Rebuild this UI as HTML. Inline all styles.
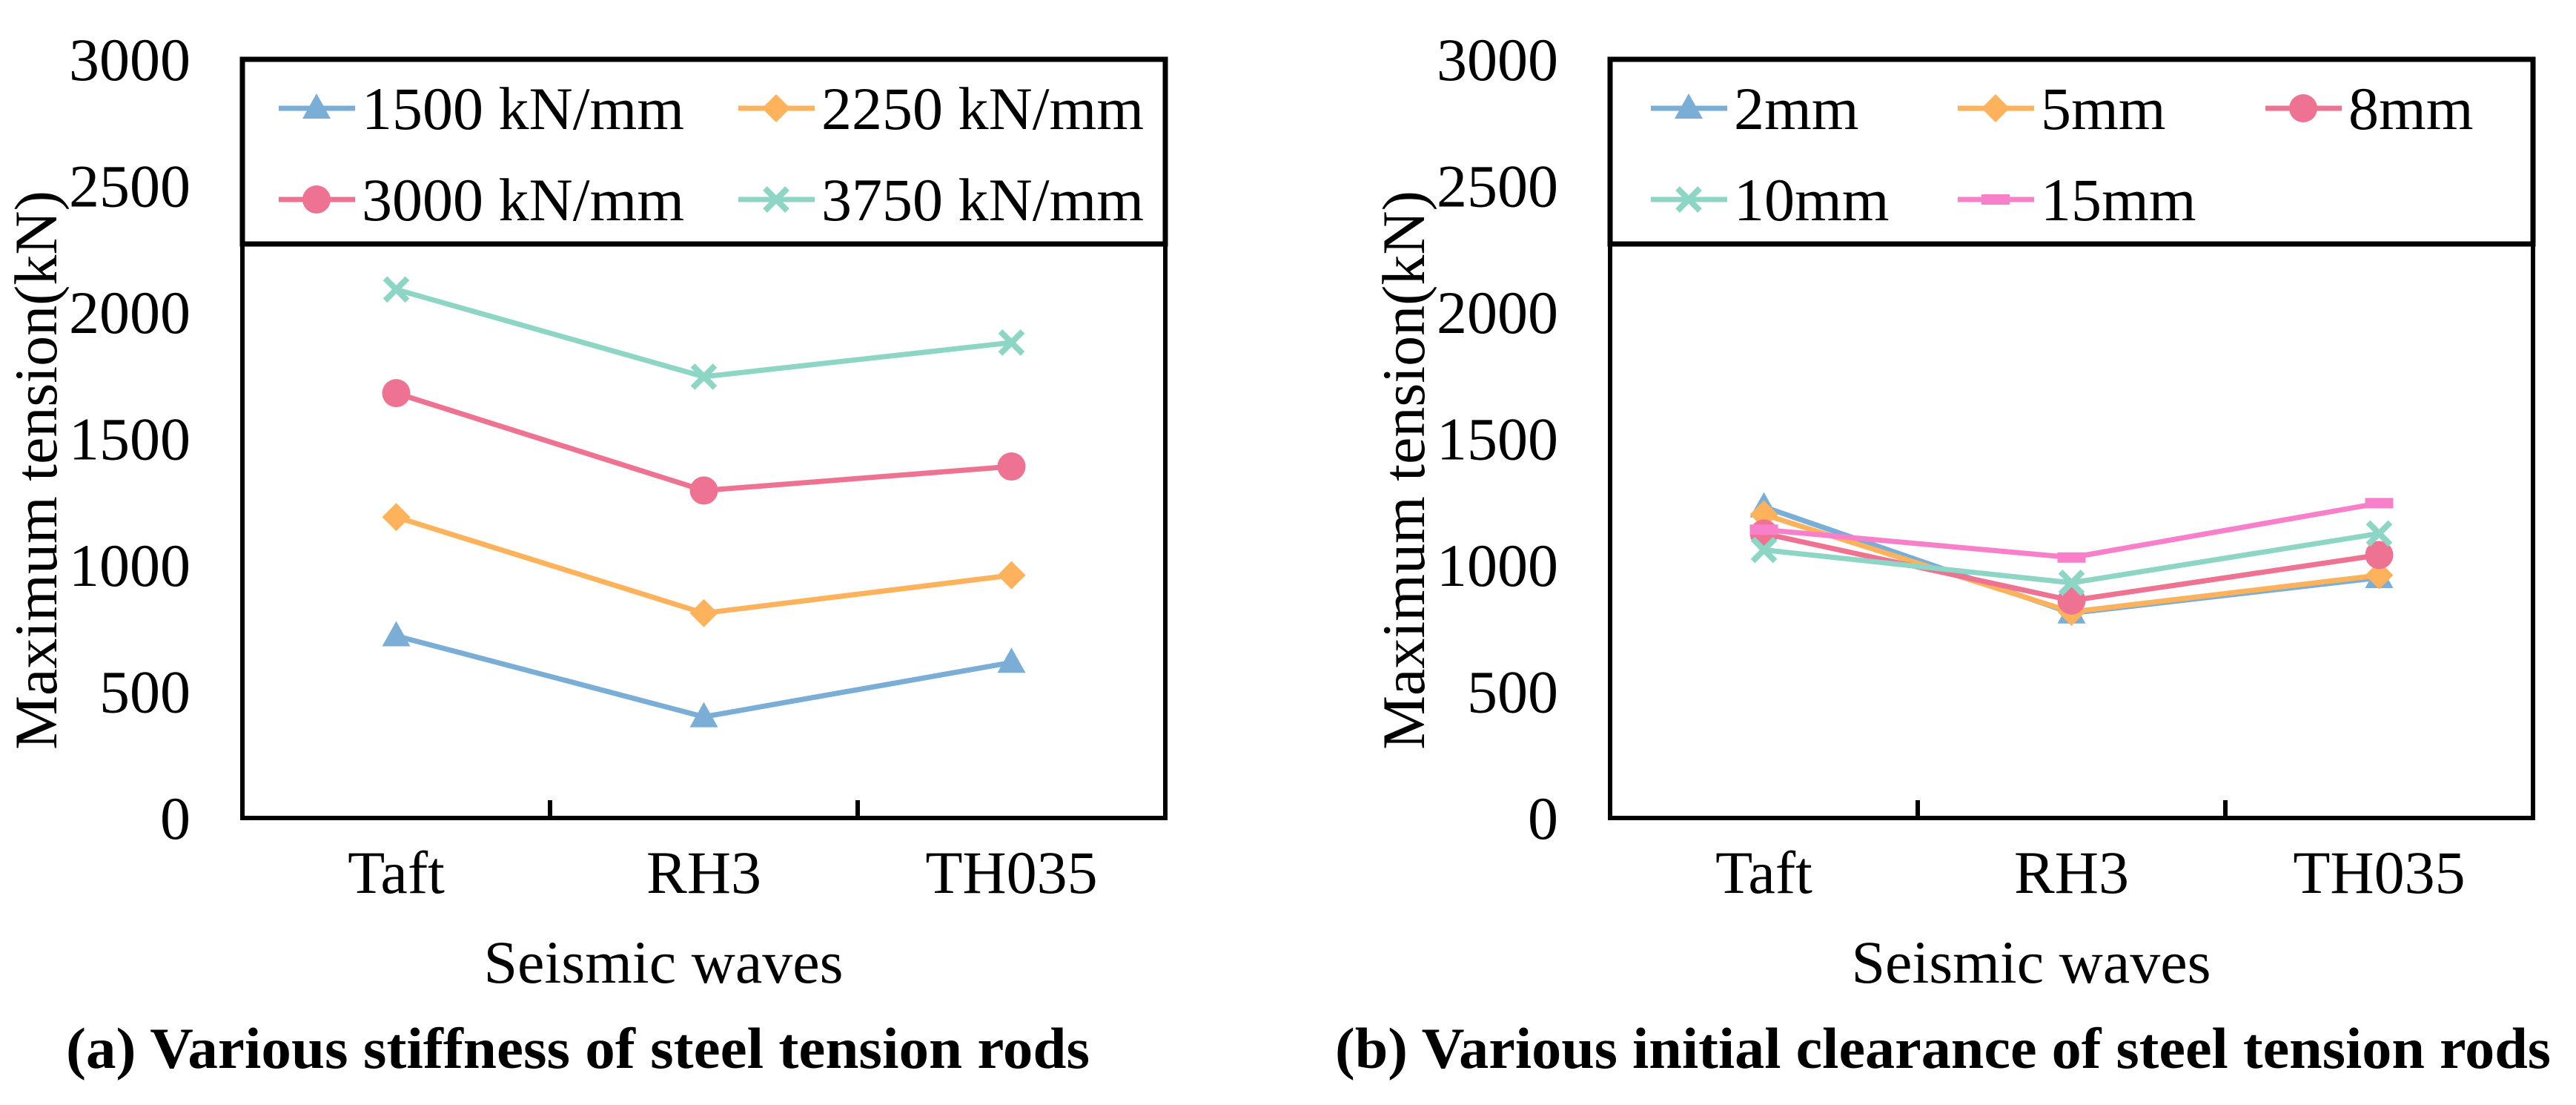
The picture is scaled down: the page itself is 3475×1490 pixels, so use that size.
<!DOCTYPE html>
<html><head><meta charset="utf-8"><style>
html,body{margin:0;padding:0;background:#fff;}
svg{display:block;}
text{font-family:"Liberation Serif",serif;fill:#000;}
</style></head><body>
<svg id="fig" width="3475" height="1490" viewBox="0 0 3475 1490" xmlns="http://www.w3.org/2000/svg">
<rect x="0" y="0" width="3475" height="1490" fill="#fff"/>
</svg>
<script>
const categories = ["Taft", "RH3", "TH035"];
const yTicks = [0, 500, 1000, 1500, 2000, 2500, 3000];
const seriesA_names = ["1500 kN/mm", "2250 kN/mm", "3000 kN/mm", "3750 kN/mm"];
const seriesA_1500 = [720, 400, 615];
const seriesA_2250 = [1190, 810, 960];
const seriesA_3000 = [1680, 1295, 1390];
const seriesA_3750 = [2090, 1745, 1880];
const seriesB_names = ["2mm", "5mm", "8mm", "10mm", "15mm"];
const seriesB_2mm = [1230, 810, 950];
const seriesB_5mm = [1200, 815, 960];
const seriesB_8mm = [1125, 860, 1040];
const seriesB_10mm = [1060, 930, 1125];
const seriesB_15mm = [1140, 1030, 1245];

const NS = "http://www.w3.org/2000/svg";
const svg = document.getElementById("fig");
function el(tag, attrs, parent) {
  const e = document.createElementNS(NS, tag);
  for (const k in attrs) e.setAttribute(k, attrs[k]);
  (parent || svg).appendChild(e);
  return e;
}
const C = {blue:"#7aaed6", orange:"#ffb25c", red:"#ee7392", teal:"#8dd5c4", pink:"#f87fca"};

function marker(g, type, x, y, color) {
  let m;
  if (type === "tri") {
    m = el("polygon", {points: `${x},${y-20} ${x-19},${y+14} ${x+19},${y+14}`, fill: color}, g);
  } else if (type === "dia") {
    m = el("polygon", {points: `${x},${y-19} ${x+19},${y} ${x},${y+19} ${x-19},${y}`, fill: color}, g);
  } else if (type === "circ") {
    m = el("circle", {cx: x, cy: y, r: 19, fill: color}, g);
  } else if (type === "x") {
    m = el("path", {d: `M${x-15},${y-15}L${x+15},${y+15}M${x+15},${y-15}L${x-15},${y+15}`, stroke: color, "stroke-width": 8, fill: "none"}, g);
  } else {
    m = el("rect", {x: x-19, y: y-7, width: 38, height: 14, fill: color}, g);
  }
  
  
}

function panel(cfg) {
  const L = cfg.left, R = cfg.left + 1245, T = 80, B = 1103;
  const band = (R - L) / categories.length;
  const xS = i => L + band * (i + 0.5);
  const yS = v => B - (v / 3000) * (B - T);
  const g = el("g", {});
  
  
  // y ticks labels
  yTicks.forEach(v => {
    const t = el("text", {x: L - 70, y: yS(v) + 28, "font-size": 82, "text-anchor": "end"}, g);
    t.textContent = v;
    
    
  });
  // category ticks
  for (let i = 1; i < categories.length; i++) {
    const tk = el("line", {x1: L + band * i, x2: L + band * i, y1: B, y2: B - 24, stroke: "#000", "stroke-width": 6}, g);
    
    
  }
  categories.forEach((c, i) => {
    const t = el("text", {x: xS(i), y: 1204, "font-size": 82, "text-anchor": "middle"}, g);
    t.textContent = c;
    
    
  });
  // series
  cfg.series.forEach(s => {
    const sg = el("g", {}, g);
    
    
    const pts = s.values.map((v, i) => xS(i) + "," + yS(v)).join(" ");
    const pl = el("polyline", {points: pts, fill: "none", stroke: s.color, "stroke-width": 7, "stroke-linejoin": "round"}, sg);
    
    
    s.values.forEach((v, i) => marker(sg, s.type, xS(i), yS(v), s.color));
  });
  // frame
  const fr = el("rect", {x: L, y: T, width: R - L, height: B - T, fill: "none", stroke: "#000", "stroke-width": 6}, g);
  
  
  // legend
  const lg = el("g", {}, g);
  
  
  const lb = el("rect", {x: L, y: T, width: R - L, height: 329 - T, fill: "#fff", stroke: "#000", "stroke-width": 7}, lg);
  
  
  cfg.series.forEach((s, k) => {
    const p = cfg.legendPos[k];
    const eg = el("g", {}, lg);
    
    
    el("line", {x1: p[0], x2: p[0] + 103, y1: p[1], y2: p[1], stroke: s.color, "stroke-width": 7}, eg);
    marker(eg, s.type, p[0] + 51, p[1], s.color);
    const t = el("text", {x: p[0] + 112, y: p[1] + 28, "font-size": 82}, eg);
    t.textContent = s.label;
    
    
  });
  // axis titles
  const yt = el("text", {x: 0, y: 0, "font-size": 82, "text-anchor": "middle", transform: `translate(${cfg.ytx},634) rotate(-90)`}, g);
  yt.textContent = "Maximum tension(kN)";
  
  
  const xt = el("text", {x: cfg.xtx, y: 1325, "font-size": 82, "text-anchor": "middle"}, g);
  xt.textContent = "Seismic waves";
  
  
  const cap = el("text", {x: cfg.capX, y: 1440, "font-size": 78, "font-weight": "bold", textLength: cfg.capW, lengthAdjust: "spacingAndGlyphs"}, g);
  cap.textContent = cfg.caption;
  
  
}

panel({
  name: "chart-stiffness", left: 327, ytx: 76, xtx: 895, capX: 89, capW: 1381,
  caption: "(a) Various stiffness of steel tension rods",
  series: [
    {label: seriesA_names[0], values: seriesA_1500, color: C.blue, type: "tri"},
    {label: seriesA_names[1], values: seriesA_2250, color: C.orange, type: "dia"},
    {label: seriesA_names[2], values: seriesA_3000, color: C.red, type: "circ"},
    {label: seriesA_names[3], values: seriesA_3750, color: C.teal, type: "x"}
  ],
  legendPos: [[376, 146], [996, 146], [376, 269], [996, 269]]
});
panel({
  name: "chart-clearance", left: 2172, ytx: 1921, xtx: 2740, capX: 1801, capW: 1640,
  caption: "(b) Various initial clearance of steel tension rods",
  series: [
    {label: seriesB_names[0], values: seriesB_2mm, color: C.blue, type: "tri"},
    {label: seriesB_names[1], values: seriesB_5mm, color: C.orange, type: "dia"},
    {label: seriesB_names[2], values: seriesB_8mm, color: C.red, type: "circ"},
    {label: seriesB_names[3], values: seriesB_10mm, color: C.teal, type: "x"},
    {label: seriesB_names[4], values: seriesB_15mm, color: C.pink, type: "sq"}
  ],
  legendPos: [[2227, 146], [2641, 146], [3056, 146], [2227, 269], [2641, 269]]
});
</script>
</body></html>
